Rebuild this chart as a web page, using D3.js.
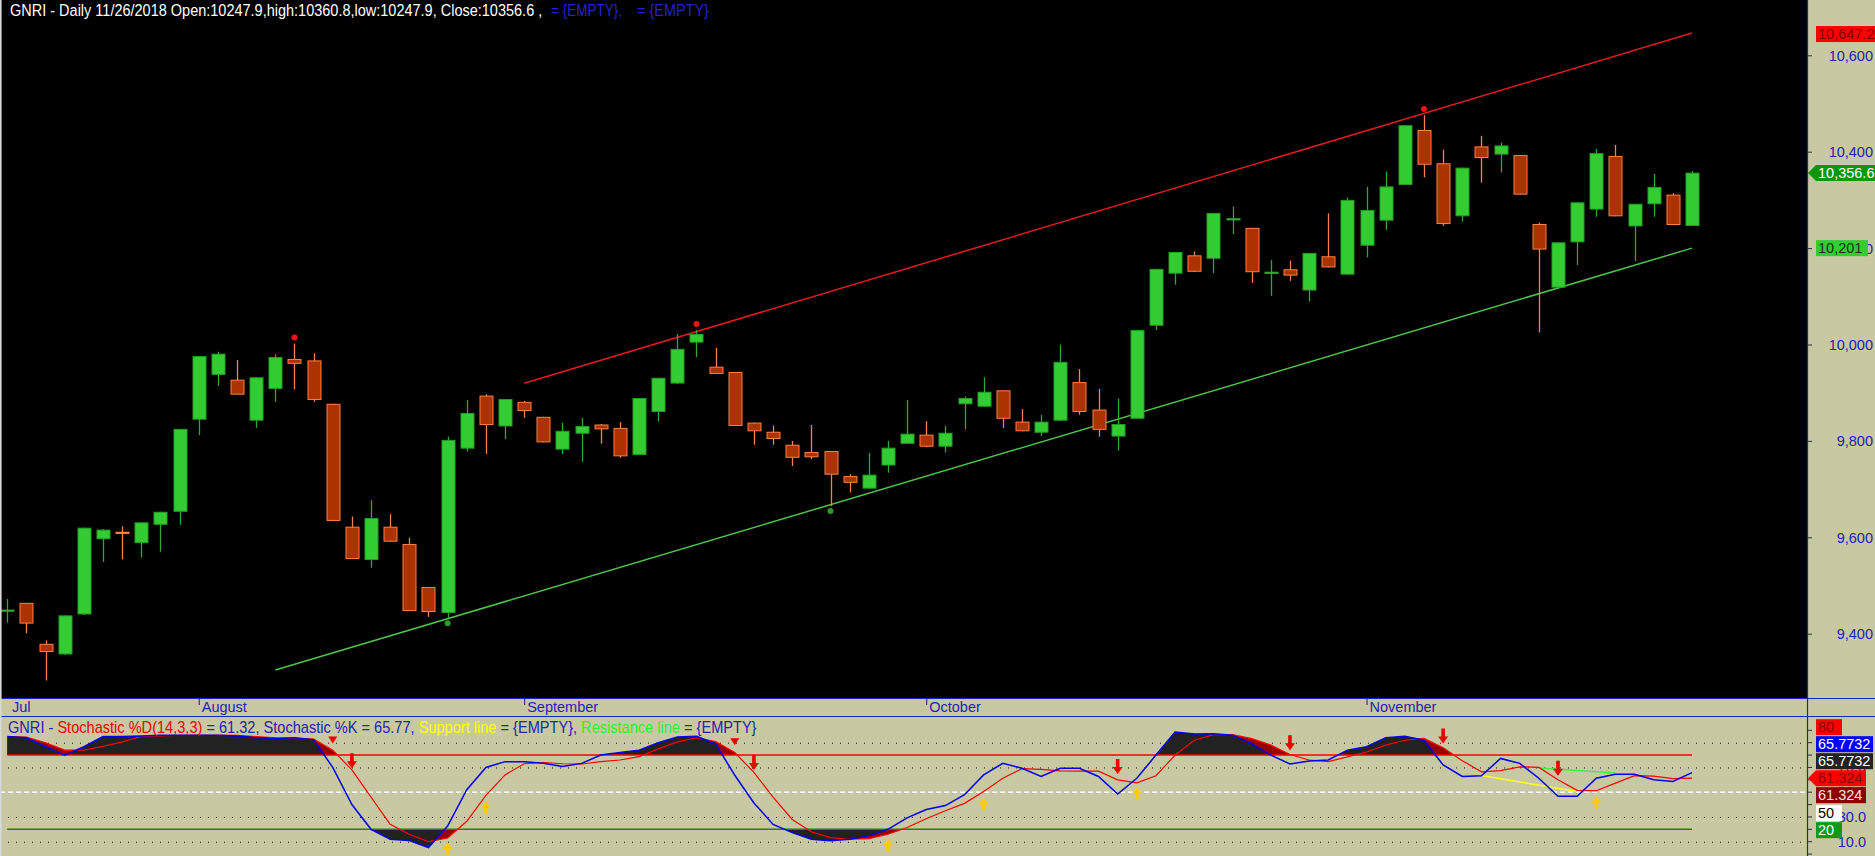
<!DOCTYPE html>
<html><head><meta charset="utf-8">
<script src="https://cdn.jsdelivr.net/npm/d3@7"></script>
<style>html,body{margin:0;padding:0;background:#000;overflow:hidden} text{white-space:pre}</style>
</head><body><svg id="c" width="1875" height="856"></svg>
<script>
// ---------------- DATA ----------------
const days = d3.range(89); // trading-day index (categories)
const monthLabels = ["Jul", "August", "September", "October", "November"];
const monthStartDay = [null, 10, 27, 48, 71];

const openV = [9448,9464,9379,9359,9442,9598,9612,9590,9628,9655,
 9846,9939,9927,9844,9910,9970,9967,9877,9622,9555,
 9622,9586,9497,9445,9786,9894,9832,9881,9850,9784,
 9817,9834,9827,9773,9862,9921,10006,9954,9943,9838,
 9819,9792,9777,9779,9727,9703,9751,9796,9813,9790,
 9878,9873,9905,9840,9819,9844,9922,9865,9811,9848,
 10041,10149,10185,10180,10260,10242,10148,10156,10114,10183,
 10147,10207,10259,10333,10445,10376,10268,10411,10396,10393,
 10250,10120,10214,10282,10391,10247,10293,10311,10247.9];
const highV = [9473,9465,9387,9440,9621,9618,9624,9632,9654,9826,
 9977,9986,9969,9933,9981,10003,9983,9878,9644,9678,
 9649,9600,9498,9810,9886,9898,9888,9884,9851,9839,
 9849,9836,9840,9890,9932,10023,10031,9994,9944,9839,
 9833,9801,9834,9780,9732,9776,9801,9886,9842,9832,
 9893,9933,9906,9867,9855,10001,9950,9909,9889,10031,
 10158,10193,10194,10274,10287,10243,10176,10175,10191,10273,
 10306,10328,10360,10456,10477,10405,10368,10434,10420,10394,
 10254,10213,10296,10407,10415,10293,10355,10315,10360.8];
const lowV = [9424,9402,9304,9357,9440,9550,9555,9559,9571,9627,
 9813,9915,9897,9828,9882,9908,9882,9635,9556,9538,
 9592,9448,9436,9433,9779,9774,9805,9849,9798,9774,
 9758,9795,9766,9772,9841,9920,9975,9940,9832,9793,
 9793,9749,9763,9666,9694,9702,9735,9795,9788,9777,
 9825,9872,9828,9821,9811,9843,9855,9810,9781,9847,
 10031,10125,10152,10149,10230,10129,10102,10133,10090,10161,
 10146,10182,10239,10332,10348,10247,10256,10337,10358,10312,
 10026,10118,10166,10266,10267,10174,10266,10249,10247.9];
const closeV = [9450,9423,9364,9438,9620,9616,9609,9631,9653,9825,
 9976,9981,9898,9932,9974,9962,9887,9636,9557,9640,
 9593,9449,9447,9802,9858,9835,9887,9864,9799,9821,
 9831,9826,9770,9889,9931,9991,10022,9941,9833,9822,
 9806,9767,9768,9732,9715,9730,9786,9815,9790,9817,
 9889,9902,9848,9822,9840,9964,9862,9825,9835,10030,
 10157,10192,10153,10273,10262,10152,10152,10145,10190,10162,
 10300,10279,10328,10455,10375,10252,10367,10389,10413,10313,
 10199,10212,10295,10397,10268,10292,10327,10250,10356.6];

const priceTicks = [9400, 9600, 9800, 10000, 10200, 10400, 10600];
const upperChannel = [[27, 9920.5], [88, 10647.2]];
const lowerChannel = [[14, 9325.7], [88, 10201]];
const peakMarks = [15, 36, 74];
const troughMarks = [23, 43];

const stochK = [95,94,86.7,80,86.7,95,95,95.5,96,96,
 96,96,95.5,94,93.3,94,92.5,70,40,20,
 12,11,5.3,22.7,52,70,74.7,74.7,73.3,70.7,
 73.3,80,82,84,90,94.7,95.2,89,63.7,41.3,
 24,17.3,12,10.7,12,14.7,20,29.3,36,39.2,
 48,64,73.3,69.3,62.7,69.3,69.3,62.7,48.5,61.3,
 80,98.7,97,97.3,96,89.3,80,72.8,75.2,76,
 84,86.7,94.1,95.2,92,72,62.7,63.2,77.3,73.3,
 61.3,46.7,46.7,61.3,64.5,64.5,60,58.7,65.7732];
const stochD = [95,94.5,90,84,84,87,90.7,95,95.5,96,
 96,96,96,95,94,93.5,93,84,68,46,
 24,16,10,13,26.5,47.5,64,73,74,73,
 72.8,74.7,76,78.7,85,90.7,94,91,82,66,
 46,28,18,13.3,12,12.5,16,21.5,28.5,35,
 41,50.5,61.3,69,68.4,67.3,67,67,60,57.5,
 63.3,80,92,96.5,96.5,93.3,88,80.5,76,74.7,
 78.5,82.5,88,92,93.5,86,75.5,66.5,67.5,70.5,
 70,60,51.5,51.2,57.3,63.4,63,61,61.324];
const stochTicks = [10, 30, 50, 70, 90];
const overbought = 80, oversold = 20, midLevel = 50;
const supportLine = [[77, 63.5], [82, 50.5]];
const resistanceLine = [[80, 69.5], [84, 65.5]];
const sellArrows = [[18, 69.3], [39, 68], [58, 64.8], [67, 84], [75, 89.3], [81, 63.2]];
const sellTriangles = [[17, 89.3], [38, 88]];
const buyArrows = [[23, 9.3], [25, 42.7], [46, 12], [51, 45.3], [59, 54], [83, 46.7]];

// ---------------- LAYOUT ----------------
const W = 1875, H = 856, PR = 1807, PB = 698, ST = 717;
const BEIGE = "#c8c8a2", AXBLUE = "#2424b4", FONT = "'Liberation Sans', Arial, sans-serif";
const svg = d3.select("#c");

const x = d3.scalePoint().domain(days).range([7.3, 1692]);
const y = d3.scaleLinear().domain([9400, 10600]).range([634.2, 55.8]);
const ys = d3.scaleLinear().domain([10, 90]).range([841.7, 742.7]);

svg.append("rect").attr("width", W).attr("height", H).attr("fill", BEIGE);
svg.append("rect").attr("width", PR).attr("height", PB).attr("fill", "#000");

const defs = svg.append("defs");
defs.append("clipPath").attr("id", "cp").append("rect").attr("width", PR).attr("height", PB);
defs.append("clipPath").attr("id", "cs").append("rect").attr("y", ST + 2).attr("width", PR).attr("height", H - ST - 2);
defs.append("clipPath").attr("id", "cTop").append("rect").attr("y", ST + 2).attr("width", PR).attr("height", ys(overbought) - ST - 2);
defs.append("clipPath").attr("id", "cBot").append("rect").attr("y", ys(oversold)).attr("width", PR).attr("height", H - ys(oversold));

// ---------------- PRICE PANEL ----------------
const gp = svg.append("g").attr("clip-path", "url(#cp)");
const chan = d3.line().x(d => x(d[0])).y(d => y(d[1]));
gp.append("path").attr("d", chan(upperChannel)).attr("stroke", "#e01c1c").attr("stroke-width", 1.5).attr("fill", "none");
gp.append("path").attr("d", chan(lowerChannel)).attr("stroke", "#4cc44c").attr("stroke-width", 1.5).attr("fill", "none");

const BW = 14;
days.forEach(i => {
  const o = openV[i], h = highV[i], l = lowV[i], c = closeV[i];
  const up = c >= o;
  const wick = up ? "#2ea82e" : "#ff7f48";
  const cx = Math.round(x(i)) + 0.5;
  gp.append("line").attr("x1", cx).attr("x2", cx).attr("y1", y(h)).attr("y2", y(l))
    .attr("stroke", wick).attr("stroke-width", 1.3);
  const top = y(Math.max(o, c)), bot = y(Math.min(o, c));
  if (bot - top < 3) {
    gp.append("rect").attr("x", cx - BW / 2).attr("y", (top + bot) / 2 - 1).attr("width", BW).attr("height", 2.2)
      .attr("fill", wick);
  } else {
    gp.append("rect").attr("x", cx - BW / 2 + 0.5).attr("y", top).attr("width", BW - 1).attr("height", bot - top)
      .attr("fill", up ? "#33cc33" : "#aa3300").attr("stroke", up ? "#22a022" : "#ff7f48").attr("stroke-width", 1);
  }
});
peakMarks.forEach(i => gp.append("circle").attr("cx", x(i)).attr("cy", y(highV[i]) - 6).attr("r", 3).attr("fill", "#ff1010"));
troughMarks.forEach(i => gp.append("circle").attr("cx", x(i)).attr("cy", y(lowV[i]) + 5).attr("r", 3).attr("fill", "#2e9a2e"));

// right price axis
const fmt0 = d3.format(",.0f"), fmt1 = d3.format(",.1f");
priceTicks.forEach(v => {
  svg.append("line").attr("x1", PR).attr("x2", PR + 5).attr("y1", y(v)).attr("y2", y(v)).attr("stroke", "#333");
  svg.append("text").attr("x", 1873).attr("y", y(v) + 5).attr("text-anchor", "end")
    .attr("font-family", FONT).attr("font-size", 14.5).attr("fill", AXBLUE).text(fmt0(v));
});
function tag(yc, txt, fill, tcol, w, arrow) {
  if (arrow) {
    svg.append("path").attr("d", `M${PR + 1},${yc} L1816,${yc - 8} H${1816 + w} V${yc + 8} H1816 Z`).attr("fill", fill);
  } else {
    svg.append("rect").attr("x", 1816).attr("y", yc - 8).attr("width", w).attr("height", 16).attr("fill", fill);
  }
  svg.append("text").attr("x", 1818).attr("y", yc + 5).attr("font-family", FONT).attr("font-size", 14.5)
    .attr("fill", tcol).text(txt);
}
tag(y(upperChannel[1][1]) + 1, fmt1(upperChannel[1][1]), "#ff0000", "#7a0000", 62, false);
tag(y(closeV[88]), fmt1(closeV[88]), "#0c960c", "#ffffff", 62, true);
tag(y(lowerChannel[1][1]), fmt0(lowerChannel[1][1]), "#33cc33", "#0a3a0a", 52, false);

// title (two runs, each fitted to its measured span)
function fitted(txt, col, x0, x1, yb, size) {
  const t = svg.append("text").attr("font-family", FONT).attr("font-size", size).attr("fill", col).text(txt);
  const w = t.node().getComputedTextLength();
  t.attr("transform", `translate(${x0},${yb}) scale(${(x1 - x0) / w},1)`);
  return t;
}
fitted(`GNRI - Daily 11/26/2018 Open:${openV[88]},high:${highV[88]},low:${lowV[88]}, Close:${closeV[88]} ,`, "#ffffff", 10, 543, 16, 16.5);
fitted("= {EMPTY},", "#2222d8", 551, 622, 16, 16.5);
fitted("= {EMPTY}", "#2222d8", 637, 709, 16, 16.5);

// ---------------- DATE STRIP ----------------
svg.append("line").attr("x1", 0).attr("x2", W).attr("y1", PB + 0.5).attr("y2", PB + 0.5).attr("stroke", "#2020c8");
svg.append("line").attr("x1", 0).attr("x2", W).attr("y1", ST - 0.5).attr("y2", ST - 0.5).attr("stroke", "#2020c8").attr("stroke-width", 1.2);
monthLabels.forEach((m, k) => {
  const d = monthStartDay[k];
  const mx = d === null ? 9 : x(d);
  if (d !== null) svg.append("line").attr("x1", mx + 0.5).attr("x2", mx + 0.5).attr("y1", PB + 1).attr("y2", PB + 7).attr("stroke", "#202060");
  svg.append("text").attr("x", mx + 3).attr("y", 712).attr("font-family", FONT).attr("font-size", 14.5)
    .attr("fill", AXBLUE).text(m);
});

// ---------------- STOCHASTIC PANEL ----------------
const gs = svg.append("g").attr("clip-path", "url(#cs)");
stochTicks.forEach(v => {
  gs.append("line").attr("x1", 0).attr("x2", PR).attr("y1", ys(v) + 0.5).attr("y2", ys(v) + 0.5)
    .attr("stroke", "#111").attr("stroke-dasharray", "1,7");
});
gs.append("line").attr("x1", 0).attr("x2", PR).attr("y1", ys(midLevel)).attr("y2", ys(midLevel))
  .attr("stroke", "#fff").attr("stroke-width", 1.5).attr("stroke-dasharray", "5,3");

const areaOf = (arr, base) => d3.area().x(i => x(i)).y0(ys(base)).y1(i => ys(arr[i]));
const gT = gs.append("g").attr("clip-path", "url(#cTop)");
gT.append("path").attr("d", areaOf(stochD, overbought)(days)).attr("fill", "#960000");
gT.append("path").attr("d", areaOf(stochK, overbought)(days)).attr("fill", "#222222");
const gB = gs.append("g").attr("clip-path", "url(#cBot)");
gB.append("path").attr("d", areaOf(stochD, oversold)(days)).attr("fill", "#960000");
gB.append("path").attr("d", areaOf(stochK, oversold)(days)).attr("fill", "#222222");

gs.append("line").attr("x1", x(0)).attr("x2", x(88)).attr("y1", ys(overbought)).attr("y2", ys(overbought))
  .attr("stroke", "#ff0000").attr("stroke-width", 1.5);
gs.append("line").attr("x1", x(0)).attr("x2", x(88)).attr("y1", ys(oversold)).attr("y2", ys(oversold))
  .attr("stroke", "#0a8a0a").attr("stroke-width", 1.5);

const sl = d3.line().x(d => x(d[0])).y(d => ys(d[1]));
gs.append("path").attr("d", sl(supportLine)).attr("stroke", "#ffff20").attr("stroke-width", 1.5).attr("fill", "none");
gs.append("path").attr("d", sl(resistanceLine)).attr("stroke", "#44ee44").attr("stroke-width", 1.5).attr("fill", "none");

const lk = d3.line().x(i => x(i)).y(i => ys(stochK[i]));
const ld = d3.line().x(i => x(i)).y(i => ys(stochD[i]));
gs.append("path").attr("d", ld(days)).attr("stroke", "#ff0000").attr("stroke-width", 1.2).attr("fill", "none");
gs.append("path").attr("d", lk(days)).attr("stroke", "#0000f0").attr("stroke-width", 1.5).attr("fill", "none");

sellArrows.forEach(([i, v]) => {
  const ax = x(i), t = ys(v);
  gs.append("path").attr("d", `M${ax - 1.8},${t - 15} h3.6 v8 h3.2 l-5,7 l-5,-7 h3.2 z`).attr("fill", "#ee0000");
});
sellTriangles.forEach(([i, v]) => {
  const ax = x(i), t = ys(v);
  gs.append("path").attr("d", `M${ax - 4.5},${t - 7} h9 l-4.5,7 z`).attr("fill", "#ee0000");
});
buyArrows.forEach(([i, v]) => {
  const ax = x(i), t = ys(v);
  gs.append("path").attr("d", `M${ax},${t} l5,6.5 h-3.2 v4.5 l-1.8,2.5 l-1.8,-2.5 v-4.5 h-3.2 z`).attr("fill", "#ffcc00");
});

// legend
const lg = svg.append("text").attr("font-family", FONT).attr("font-size", 16);
[["GNRI - ", AXBLUE], ["Stochastic %D(14,3,3)", "#ee0000"],
 [` = ${stochD[88].toFixed(2)}, Stochastic %K = ${stochK[88].toFixed(2)}, `, AXBLUE],
 ["Support line", "#ffff00"], [" = {EMPTY}, ", AXBLUE], ["Resistance line", "#33ee33"], [" = {EMPTY}", AXBLUE]]
  .forEach(([t, c]) => lg.append("tspan").attr("fill", c).text(t));
const lw = lg.node().getComputedTextLength();
lg.attr("transform", `translate(8,733) scale(${749 / lw},1)`);

// stochastic right axis
d3.range(0, 101, 10).forEach(v => {
  if (ys(v) > ST + 2 && ys(v) < H)
    svg.append("line").attr("x1", PR).attr("x2", PR + 5).attr("y1", ys(v)).attr("y2", ys(v)).attr("stroke", "#333");
});
stochTicks.forEach(v => svg.append("text").attr("x", 1866).attr("y", ys(v) + 5).attr("text-anchor", "end")
  .attr("font-family", FONT).attr("font-size", 14.5).attr("fill", AXBLUE).text(v.toFixed(1)));
const dY = ys(stochD[88]);
tag(dY - 51, String(overbought), "#ff0000", "#8a0000", 26, false);
tag(dY - 34, stochK[88].toFixed(4), "#0000ff", "#ffffff", 57, false);
tag(dY - 17, stochK[88].toFixed(4), "#222222", "#ffffff", 57, false);
tag(dY, stochD[88].toFixed(3), "#ff0000", "#8a0000", 50, true);
tag(dY + 17, stochD[88].toFixed(3), "#8a0000", "#ffe0e0", 50, false);
tag(dY + 35, String(midLevel), "#ffffff", "#000000", 26, false);
tag(dY + 52, String(oversold), "#119911", "#ffffff", 26, false);

// frame lines
svg.append("line").attr("x1", PR + 0.5).attr("x2", PR + 0.5).attr("y1", 0).attr("y2", H).attr("stroke", "#2020c8").attr("stroke-width", 1.2);
svg.append("rect").attr("x", 0).attr("y", 0).attr("width", 1.6).attr("height", H).attr("fill", "#d8d8d8");
</script></body></html>
